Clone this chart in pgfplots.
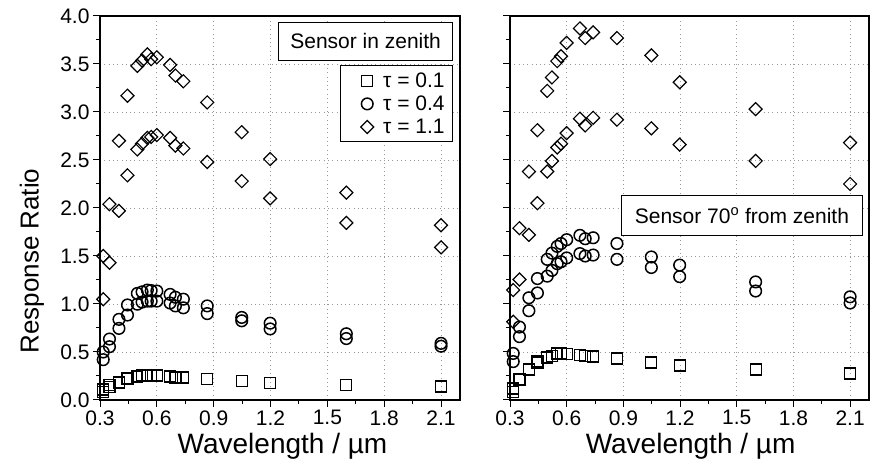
\documentclass[border=0pt]{standalone}
\usepackage{fontspec}
\setmainfont{Liberation Sans}
\usepackage{pgfplots}
\pgfplotsset{compat=1.18}
\usepackage{pgfplotstable}

% Response ratios, sensor looking at zenith (two model runs per optical depth)
\pgfplotstableread{
lam   sqA   sqB   ciA   ciB   diA   diB
0.317 0.11  0.08  0.50  0.42  1.50  1.05
0.350 0.155 0.135 0.635 0.555 2.04  1.43
0.400 0.19  0.18  0.84  0.746 2.70  1.97
0.445 0.225 0.215 0.99  0.885 3.17  2.34
0.497 0.25  0.245 1.11  0.998 3.48  2.61
0.522 0.255 0.25  1.126 1.02  3.535 2.67
0.550 0.26  0.255 1.145 1.03  3.60  2.73
0.570 0.26  0.255 1.14  1.03  3.55  2.74
0.600 0.26  0.255 1.135 1.03  3.57  2.76
0.670 0.25  0.245 1.10  1.01  3.49  2.73
0.698 0.24  0.235 1.07  0.98  3.38  2.65
0.740 0.235 0.23  1.05  0.96  3.32  2.62
0.866 0.22  0.215 0.98  0.90  3.10  2.48
1.048 0.20  0.195 0.86  0.825 2.79  2.28
1.198 0.18  0.175 0.80  0.74  2.51  2.10
1.600 0.16  0.155 0.69  0.64  2.16  1.845
2.100 0.14  0.135 0.59  0.56  1.82  1.59
}\zenith

% Response ratios, sensor tilted 70 degrees from zenith
\pgfplotstableread{
lam   sqA   sqB   ciA   ciB   diA   diB
0.317 0.12  0.085 0.485 0.40  1.145 0.815
0.350 0.215 0.205 0.76  0.66  1.79  1.255
0.400 0.32  0.31  1.065 0.93  2.38  1.72
0.445 0.40  0.39  1.265 1.115 2.81  2.05
0.497 0.45  0.44  1.465 1.29  3.22  2.38
0.522 0.46  0.455 1.53  1.35  3.36  2.49
0.550 0.485 0.475 1.60  1.42  3.53  2.63
0.570 0.485 0.48  1.63  1.44  3.58  2.67
0.600 0.48  0.475 1.67  1.48  3.72  2.78
0.670 0.47  0.465 1.715 1.525 3.87  2.93
0.698 0.46  0.455 1.68  1.50  3.77  2.86
0.740 0.46  0.45  1.69  1.51  3.83  2.94
0.866 0.435 0.43  1.63  1.465 3.77  2.92
1.048 0.39  0.385 1.49  1.38  3.59  2.83
1.198 0.36  0.355 1.405 1.285 3.31  2.66
1.600 0.32  0.315 1.23  1.135 3.03  2.49
2.100 0.28  0.275 1.075 1.01  2.68  2.25
}\slant

\pgfplotsset{
  panel/.style={
    width=360pt, height=384pt, scale only axis,
    xmin=0.3, xmax=2.2, ymin=0, ymax=4,
    xtick={0.3,0.6,0.9,1.2,1.5,1.8,2.1},
    ytick={0,0.5,1,1.5,2,2.5,3,3.5,4},
    minor x tick num=1, minor y tick num=1,
    tick align=outside, xtick pos=left, ytick pos=left,
    major tick length=7pt, minor tick length=4pt,
    every tick/.style={black, line width=1pt},
    axis line style={line width=1.2pt},
    grid=major,
    major grid style={gray!80, line width=0.9pt, dash pattern=on 0.9pt off 3.4pt},
    tick label style={font=\fontsize{21}{21}\selectfont},
    label style={font=\fontsize{28}{28}\selectfont},
    /pgf/number format/.cd, fixed, fixed zerofill, precision=1, assume math mode=true,
  },
  % legend sample: one mark with some blank room on its left
  keyimg/.style={legend image code/.code={
      \path (-12pt,0pt) (17pt,0pt);
      \draw[mark repeat=2, mark phase=2] plot coordinates {(0pt,0pt) (8.5pt,0pt) (17pt,0pt)};}},
  sq/.style={black, only marks, mark=square, mark size=5.5pt, mark options={line width=1.2pt}, keyimg},
  ci/.style={black, only marks, mark=o, mark size=5.8pt, mark options={line width=1.5pt}, keyimg},
  di/.style={black, only marks, mark=square, mark size=4.6pt, mark options={rotate=45, line width=1.2pt}, keyimg},
}

\begin{document}
\begin{tikzpicture}
\useasboundingbox (0pt,0pt) rectangle (870pt,473pt);

\begin{axis}[panel, at={(100pt,73pt)}, anchor=south west,
  xlabel={Wavelength / µm}, ylabel={Response Ratio},
  xlabel style={at={(axis description cs:0.507,-0.12)}, anchor=center},
  ylabel style={at={(axis description cs:-0.189,0.362)}, anchor=center,
    font=\fontsize{26}{26}\selectfont},
  legend style={at={(axis description cs:0.981,0.872)}, anchor=north east,
    draw=black, line width=1pt, font=\fontsize{21}{21}\selectfont,
    row sep=3pt, column sep=5pt, inner xsep=6pt, inner ysep=5pt,
    cells={anchor=west}},
]
\addplot[sq] table[x=lam, y=sqA] {\zenith};
\addlegendentry{τ = 0.1}
\addplot[ci] table[x=lam, y=ciA] {\zenith};
\addlegendentry{τ = 0.4}
\addplot[di] table[x=lam, y=diA] {\zenith};
\addlegendentry{τ = 1.1}
\addplot[sq, forget plot] table[x=lam, y=sqB] {\zenith};
\addplot[ci, forget plot] table[x=lam, y=ciB] {\zenith};
\addplot[di, forget plot] table[x=lam, y=diB] {\zenith};
\node[draw, line width=1pt, fill=white, minimum width=174pt, minimum height=38pt,
  anchor=north east, font=\fontsize{21}{21}\selectfont]
  at (rel axis cs:0.981,0.985) {Sensor in zenith};
\end{axis}

\begin{axis}[panel, width=359pt, at={(510pt,73pt)}, anchor=south west,
  xlabel={Wavelength / µm}, yticklabels={},
  xlabel style={at={(axis description cs:0.503,-0.12)}, anchor=center},
]
\addplot[sq] table[x=lam, y=sqA] {\slant};
\addplot[ci] table[x=lam, y=ciA] {\slant};
\addplot[di] table[x=lam, y=diA] {\slant};
\addplot[sq] table[x=lam, y=sqB] {\slant};
\addplot[ci] table[x=lam, y=ciB] {\slant};
\addplot[di] table[x=lam, y=diB] {\slant};
\node[draw, line width=1pt, fill=white, minimum width=241pt, minimum height=40pt,
  anchor=north east, font=\fontsize{21}{21}\selectfont]
  at (rel axis cs:0.983,0.534) {Sensor 70\textsuperscript{o} from zenith};
\end{axis}
\end{tikzpicture}
\end{document}
